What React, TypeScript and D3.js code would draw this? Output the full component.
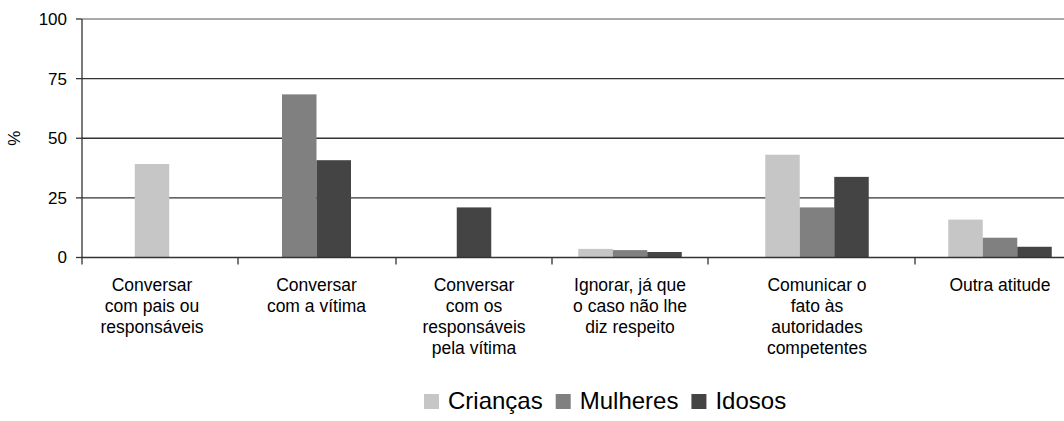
import React, { useEffect, useRef } from "react";
import * as d3 from "d3";

// categories (label lines as in the source)
const categories: string[][] = [
  ["Conversar", "com pais ou", "responsáveis"],
  ["Conversar", "com a vítima"],
  ["Conversar", "com os", "responsáveis", "pela vítima"],
  ["Ignorar, já que", "o caso não lhe", "diz respeito"],
  ["Comunicar o", "fato às", "autoridades", "competentes"],
  ["Outra atitude"],
];

const seriesNames = ["Crianças", "Mulheres", "Idosos"];

// values in %, null = not shown for that group
const criancas: (number | null)[] = [39.2, null, null, 3.6, 43.1, 15.9];
const mulheres: (number | null)[] = [null, 68.4, null, 3.1, 21.0, 8.3];
const idosos: (number | null)[] = [null, 40.8, 21.0, 2.3, 33.8, 4.5];

const yTicks = [0, 25, 50, 75, 100];

const colors = ["#c6c6c6", "#808080", "#444444"];
const font = "'Liberation Sans', Arial, sans-serif";

// the original layout is not evenly spaced: category centres and tick positions
const catCenters = [152, 316.5, 474, 630, 817, 1000];
const tickEdges = [82, 238, 396, 552, 708, 915];

function Chart() {
  const ref = useRef<SVGSVGElement>(null);

  useEffect(() => {
    const svg = d3.select(ref.current);
    svg.selectAll("*").remove();

    const W = 1064;
    const top = 19, bottom = 257.5, left = 82;
    const barW = 34.5;

    const y = d3.scaleLinear().domain([0, 100]).range([bottom, top]);
    const xc = d3.scaleLinear().domain(d3.range(catCenters.length)).range(catCenters);

    const series = [criancas, mulheres, idosos];

    // gridlines
    svg.append("g")
      .selectAll("line")
      .data(yTicks.filter(t => t > 0))
      .enter()
      .append("line")
      .attr("x1", left)
      .attr("x2", W)
      .attr("y1", d => y(d))
      .attr("y2", d => y(d))
      .attr("stroke", d => (d === 100 ? "#8c8c8c" : "#333"))
      .attr("stroke-width", 1.3);

    // bars, non-empty values centred in each category
    categories.forEach((_, i) => {
      const present = series.map((s, k) => ({ k, v: s[i] })).filter(d => d.v != null);
      const c = xc(i);
      const inner = d3.scaleBand<number>()
        .domain(present.map(d => d.k))
        .range([c - (present.length * barW) / 2, c + (present.length * barW) / 2]);
      svg.append("g")
        .selectAll("rect")
        .data(present)
        .enter()
        .append("rect")
        .attr("x", d => inner(d.k)!)
        .attr("width", inner.bandwidth())
        .attr("y", d => y(d.v as number))
        .attr("height", d => bottom - y(d.v as number))
        .attr("fill", d => colors[d.k]);
    });

    // y axis
    const yAxis = svg.append("g").attr("font-family", font).attr("font-size", 17);
    yAxis.append("line")
      .attr("x1", left).attr("x2", left)
      .attr("y1", top).attr("y2", bottom)
      .attr("stroke", "#333").attr("stroke-width", 1.3);
    yTicks.forEach(t => {
      yAxis.append("line")
        .attr("x1", left - 6).attr("x2", left)
        .attr("y1", y(t)).attr("y2", y(t))
        .attr("stroke", "#333").attr("stroke-width", 1.3);
      yAxis.append("text")
        .attr("x", left - 15)
        .attr("y", y(t))
        .attr("dy", "0.35em")
        .attr("text-anchor", "end")
        .attr("fill", "#000")
        .text(t);
    });
    yAxis.append("text")
      .attr("transform", `translate(20,${(top + bottom) / 2}) rotate(-90)`)
      .attr("text-anchor", "middle")
      .attr("fill", "#000")
      .text("%");

    // x axis
    const xAxis = svg.append("g").attr("font-family", font).attr("font-size", 17.5);
    xAxis.append("line")
      .attr("x1", left).attr("x2", W)
      .attr("y1", bottom).attr("y2", bottom)
      .attr("stroke", "#333").attr("stroke-width", 1.3);
    tickEdges.forEach(e => {
      xAxis.append("line")
        .attr("x1", e).attr("x2", e)
        .attr("y1", bottom).attr("y2", bottom + 7)
        .attr("stroke", "#333").attr("stroke-width", 1.3);
    });
    categories.forEach((lines, i) => {
      const t = xAxis.append("text")
        .attr("text-anchor", "middle")
        .attr("fill", "#000");
      lines.forEach((ln, j) => {
        t.append("tspan")
          .attr("x", xc(i))
          .attr("y", 290.5 + j * 21.2)
          .text(ln);
      });
    });

    // legend
    const legend = svg.append("g").attr("font-family", font).attr("font-size", 24);
    let lx = 424;
    seriesNames.forEach((name, k) => {
      legend.append("rect")
        .attr("x", lx).attr("y", 394)
        .attr("width", 15).attr("height", 15)
        .attr("fill", colors[k]);
      const txt = legend.append("text")
        .attr("x", lx + 24).attr("y", 409)
        .attr("fill", "#000")
        .text(name);
      const w = (txt.node() as SVGTextElement).getComputedTextLength();
      lx += 24 + w + 13;
    });
  }, []);

  return (
    <svg
      ref={ref}
      width={1064}
      height={421}
      style={{ position: "absolute", left: 0, top: 0, background: "#fff" }}
    />
  );
}

export default function App() {
  return <Chart />;
}
